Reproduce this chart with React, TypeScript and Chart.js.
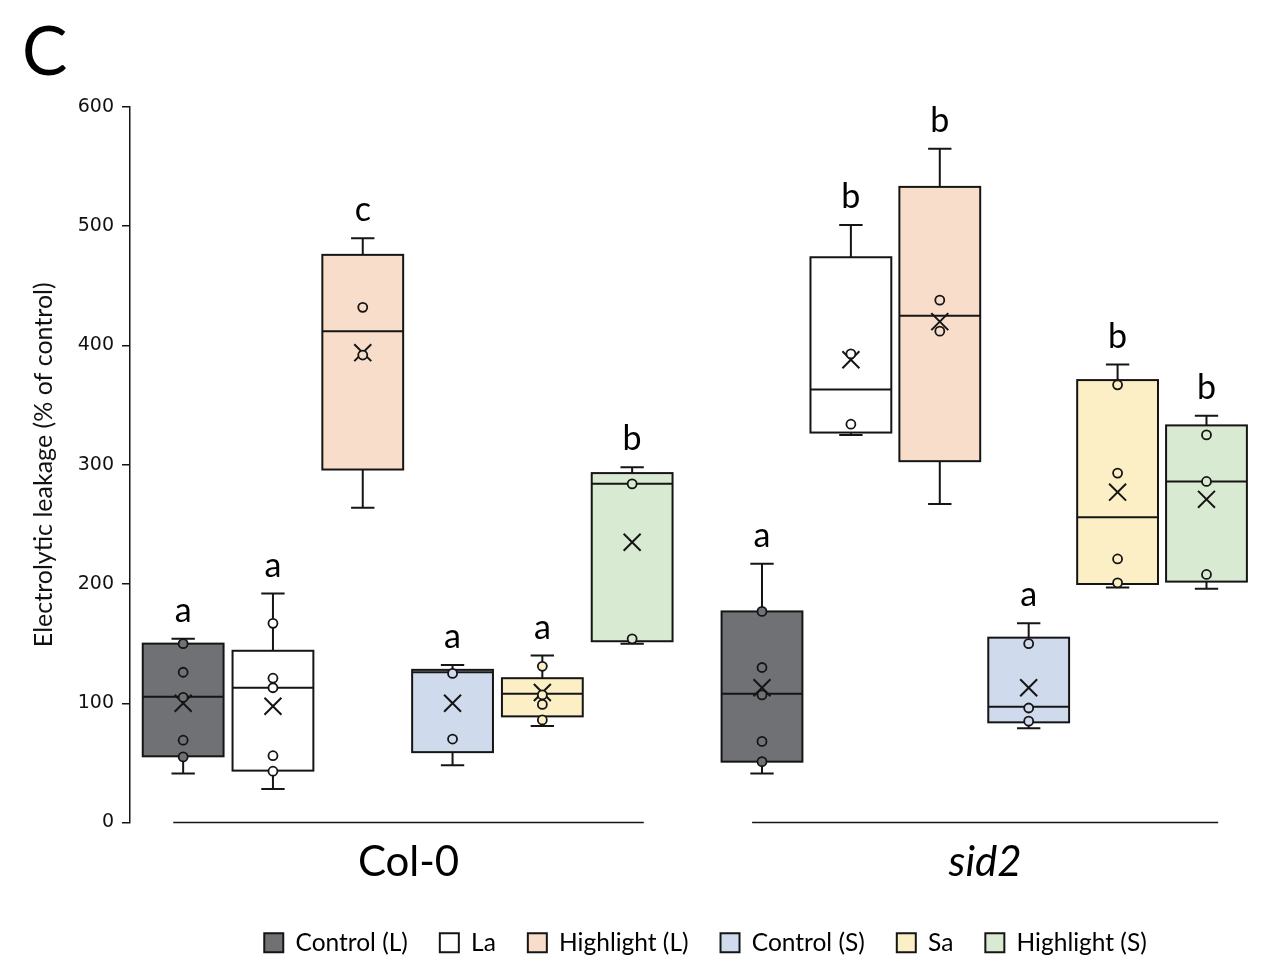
import { useEffect, useRef } from "react";
import { Chart, registerables } from "chart.js";

Chart.register(...registerables);

// Genotypes (x groups) and treatments (boxes inside each group)
const genotypes = ["Col-0", "sid2"];
const treatments = ["Control (L)", "La", "Highlight (L)", "Control (S)", "Sa", "Highlight (S)"];
const treatmentFills = ["#6f7174", "#ffffff", "#f9ddcb", "#cfdbed", "#fcefc6", "#d9ead3"];

// Box statistics, Col-0 first then sid2, in treatment order
const whiskerLow = [41, 28, 264, 48, 81, 150, 41, 325, 267, 79, 197, 196];
const quartile1 = [55.5, 43.5, 296, 59, 89, 152, 51, 327, 303, 84, 200, 202];
const medians = [105.5, 113, 412, 126, 108, 284, 108, 363, 425, 97, 256, 286];
const quartile3 = [150, 144, 476, 128, 121, 293, 177, 474, 533, 155, 371, 333];
const whiskerHigh = [154, 192, 490, 132, 140, 298, 217, 501, 565, 167, 384, 341];
const means = [100, 97.5, 394, 100, 109, 235, 113, 388, 420, 113, 277, 271];
const samples = [
  [150, 126, 105, 69, 55],
  [167, 121, 113, 56, 43],
  [432, 392],
  [125, 70],
  [131, 107, 99, 86],
  [284, 154],
  [177, 130, 107, 68, 51],
  [393, 334],
  [438, 412],
  [150, 96, 85],
  [367, 293, 221, 201],
  [325, 286, 208],
];
const significance = ["a", "a", "c", "a", "a", "b", "a", "b", "b", "a", "b", "b"];

const yTicks = [0, 100, 200, 300, 400, 500, 600];
const yTitle = "Electrolytic leakage (% of control)";
const panelLabel = "C";

// Placement of each group's boxes on the linear x scale
const groupStart = [1, 7.446];
const groupStep = [1, 0.99];
const boxHalf = 0.45;
const capHalf = 0.13;
const INK = "#151515";
const LABEL_FONT = "Lato, 'Open Sans', sans-serif";
const LEGEND_OFFSET = 73;

const slotX = (g: number, t: number) => groupStart[g] + t * groupStep[g];

const boxPlotPlugin = {
  id: "boxPlot",
  afterLayout(chart: any) {
    // legend row sits right of the canvas centre
    const lg = chart.legend;
    if (lg) {
      lg.left += LEGEND_OFFSET;
      lg.right += LEGEND_OFFSET;
    }
  },
  beforeDatasetsDraw(chart: any) {
    const { ctx, scales } = chart;
    const xs = scales.x;
    const ys = scales.y;
    ctx.save();
    ctx.strokeStyle = INK;
    ctx.lineWidth = 2;
    genotypes.forEach((_, g) => {
      treatments.forEach((__, t) => {
        const i = g * treatments.length + t;
        const cx = xs.getPixelForValue(slotX(g, t));
        const l = xs.getPixelForValue(slotX(g, t) - boxHalf);
        const r = xs.getPixelForValue(slotX(g, t) + boxHalf);
        const cl = xs.getPixelForValue(slotX(g, t) - capHalf);
        const cr = xs.getPixelForValue(slotX(g, t) + capHalf);
        const yLo = ys.getPixelForValue(whiskerLow[i]);
        const yQ1 = ys.getPixelForValue(quartile1[i]);
        const yMed = ys.getPixelForValue(medians[i]);
        const yQ3 = ys.getPixelForValue(quartile3[i]);
        const yHi = ys.getPixelForValue(whiskerHigh[i]);
        // whiskers with caps
        ctx.beginPath();
        ctx.moveTo(cx, yQ3);
        ctx.lineTo(cx, yHi);
        ctx.moveTo(cl, yHi);
        ctx.lineTo(cr, yHi);
        ctx.moveTo(cx, yQ1);
        ctx.lineTo(cx, yLo);
        ctx.moveTo(cl, yLo);
        ctx.lineTo(cr, yLo);
        ctx.stroke();
        // box
        ctx.fillStyle = treatmentFills[t];
        ctx.fillRect(l, yQ3, r - l, yQ1 - yQ3);
        ctx.strokeRect(l, yQ3, r - l, yQ1 - yQ3);
        // median
        ctx.beginPath();
        ctx.moveTo(l, yMed);
        ctx.lineTo(r, yMed);
        ctx.stroke();
      });
    });
    ctx.restore();
  },
  afterDatasetsDraw(chart: any) {
    const { ctx, scales } = chart;
    const xs = scales.x;
    const ys = scales.y;
    ctx.save();
    ctx.fillStyle = "#000";
    // significance letters
    ctx.font = `34px ${LABEL_FONT}`;
    ctx.textAlign = "center";
    ctx.textBaseline = "alphabetic";
    genotypes.forEach((_, g) => {
      treatments.forEach((__, t) => {
        const i = g * treatments.length + t;
        ctx.fillText(
          significance[i],
          xs.getPixelForValue(slotX(g, t)),
          ys.getPixelForValue(whiskerHigh[i]) - 17
        );
      });
    });
    // group baselines and genotype names
    const y0 = ys.getPixelForValue(0);
    ctx.strokeStyle = INK;
    ctx.lineWidth = 1.5;
    genotypes.forEach((name, g) => {
      const a = xs.getPixelForValue(slotX(g, 0) - 0.11);
      const b = xs.getPixelForValue(slotX(g, treatments.length - 1) + 0.13);
      ctx.beginPath();
      ctx.moveTo(a, y0);
      ctx.lineTo(b, y0);
      ctx.stroke();
      ctx.font = `${g === 1 ? "italic " : ""}42px ${LABEL_FONT}`;
      ctx.textBaseline = "middle";
      ctx.fillText(name, (a + b) / 2, y0 + 40);
    });
    // panel letter
    ctx.font = `68px ${LABEL_FONT}`;
    ctx.textAlign = "left";
    ctx.textBaseline = "alphabetic";
    ctx.fillText(panelLabel, 22, 75);
    ctx.restore();
  },
};

export default function App() {
  const canvasRef = useRef<HTMLCanvasElement | null>(null);

  useEffect(() => {
    if (!canvasRef.current) return;

    const pointSets = treatments.map((name, t) => ({
      label: name,
      data: genotypes.flatMap((_, g) =>
        samples[g * treatments.length + t].map((v) => ({ x: slotX(g, t), y: v }))
      ),
      pointRadius: 4.5,
      pointHoverRadius: 4.5,
      pointBorderWidth: 1.8,
      pointBackgroundColor: treatmentFills[t],
      pointBorderColor: INK,
      backgroundColor: treatmentFills[t],
      borderColor: INK,
    }));

    const meanSet = {
      label: "Mean",
      data: genotypes.flatMap((_, g) =>
        treatments.map((__, t) => ({ x: slotX(g, t), y: means[g * treatments.length + t] }))
      ),
      pointStyle: "crossRot" as const,
      pointRadius: 12,
      pointHoverRadius: 12,
      pointBorderWidth: 2,
      pointBorderColor: INK,
      borderColor: INK,
    };

    const chart = new Chart(canvasRef.current, {
      type: "scatter",
      data: { datasets: [...pointSets, meanSet] },
      plugins: [boxPlotPlugin],
      options: {
        animation: false,
        responsive: false,
        events: [],
        layout: { padding: { top: 107, right: 2, bottom: 8, left: 0 } },
        plugins: {
          tooltip: { enabled: false },
          legend: {
            position: "bottom",
            labels: {
              boxWidth: 19,
              boxHeight: 19,
              padding: 32,
              color: "#000",
              font: { family: LABEL_FONT, size: 24.5 },
              generateLabels: () =>
                treatments.map((name, t) => ({
                  text: name,
                  fillStyle: treatmentFills[t],
                  strokeStyle: INK,
                  lineWidth: 2,
                  fontColor: "#000",
                  hidden: false,
                  datasetIndex: t,
                })),
            },
          },
        },
        scales: {
          x: {
            type: "linear",
            min: 0.408,
            max: 12.914,
            grid: { display: false },
            border: { display: false },
            ticks: { display: false },
            afterFit: (s: any) => {
              s.height = 76;
            },
          },
          y: {
            type: "linear",
            min: 0,
            max: 600,
            afterBuildTicks: (s: any) => {
              s.ticks = yTicks.map((v) => ({ value: v }));
            },
            ticks: {
              color: "#111",
              padding: 8,
              font: { family: "'DejaVu Sans', Verdana, sans-serif", size: 19 },
            },
            grid: {
              drawOnChartArea: false,
              drawTicks: true,
              tickLength: 8,
              color: INK,
              lineWidth: 1.5,
            },
            border: { display: true, color: INK, width: 1.5 },
            title: {
              display: true,
              text: yTitle,
              color: "#111",
              font: { family: LABEL_FONT, size: 25 },
              padding: { top: 29, bottom: 0 },
            },
            afterFit: (s: any) => {
              s.width = 130;
            },
          },
        },
      },
    });

    return () => chart.destroy();
  }, []);

  return (
    <div style={{ position: "absolute", left: 0, top: 0, width: 1267, height: 973, background: "#fff" }}>
      <canvas ref={canvasRef} width={1267} height={973} />
    </div>
  );
}
